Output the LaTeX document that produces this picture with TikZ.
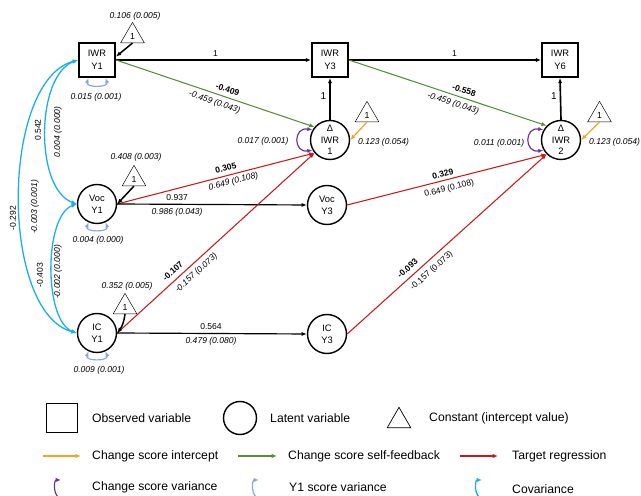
\documentclass[tikz,border=0pt]{standalone}
\usepackage{fontspec}
\setmainfont{Liberation Sans}
\usetikzlibrary{arrows.meta}
\usetikzlibrary{shapes.geometric}
\definecolor{intcol}{RGB}{245,162,35}
\definecolor{fbcol}{RGB}{88,140,55}
\definecolor{regcol}{RGB}{200,25,25}
\definecolor{dvarcol}{RGB}{112,48,160}
\definecolor{yvarcol}{RGB}{135,165,225}
\definecolor{covcol}{RGB}{25,175,235}

\begin{document}
\begin{tikzpicture}[x=0.3mm,y=0.3mm, >={Latex[length=4.5pt,width=3.6pt]},
	obs/.style = {draw, rectangle, line width=1.6pt, minimum width=10.8mm, minimum height=10.2mm, align=center, inner sep=0pt, font=\fontsize{8}{11}\selectfont},
	lat/.style = {draw, circle, line width=1.2pt, minimum size=11.7mm, align=center, inner sep=0pt, font=\fontsize{8}{10}\selectfont},
	const/.style = {draw, regular polygon, regular polygon sides=3, minimum size=8.2mm, inner sep=0pt, fill=white, font=\fontsize{7.5}{8}\selectfont},
	val/.style = {text=black, inner sep=2.5pt, font=\fontsize{7.3}{8}\selectfont\itshape},
	est/.style = {text=black, inner sep=2.5pt, font=\fontsize{7.3}{8}\selectfont},
	std/.style = {text=black, inner sep=2.5pt, font=\fontsize{7.3}{8}\selectfont\bfseries},
	key/.style = {anchor=west, inner sep=0pt, font=\fontsize{10.4}{12}\selectfont},
	path/.style = {->, line width=1pt, black},
	fb/.style = {->, line width=0.9pt, fbcol},
	reg/.style = {->, line width=0.9pt, regcol},
	icpt/.style = {->, line width=1pt, intcol},
	cov/.style = {<->, line width=1.1pt, covcol},
	dvar/.style = {<->, line width=1pt, dvarcol},
	yvar/.style = {<->, line width=1pt, yvarcol}]
	\useasboundingbox (0,0) rectangle (641,496);

	\node[obs] (IWR1) at (97,436) {IWR\\Y1};
	\node[obs] (IWR3) at (330,436) {IWR\\Y3};
	\node[obs] (IWR6) at (560,436) {IWR\\Y6};
	\node[lat] (D1) at (330,356) {Δ\\IWR\\1};
	\node[lat] (D2) at (561,356) {Δ\\IWR\\2};
	\node[lat] (Voc1) at (97,292) {Voc\\Y1};
	\node[lat] (Voc3) at (327,291) {Voc\\Y3};
	\node[lat] (IC1) at (97,163) {IC\\Y1};
	\node[lat] (IC3) at (327,162) {IC\\Y3};

	\node[const] (T1) at (132.5,460) {1};
	\node[const] (T2) at (134,317) {1};
	\node[const] (T3) at (125,189) {1};
	\node[const] (T4) at (367,381) {1};
	\node[const] (T5) at (599.5,381) {1};

	\node[val] (v1) at (135,480) {0.106 (0.005)};
	\node[val] (v2) at (136,339) {0.408 (0.003)};
	\node[val] (v3) at (127,210) {0.352 (0.005)};
	\node[val, anchor=west] (v4) at (355,354) {0.123 (0.054)};
	\node[val, anchor=west] (v5) at (586,354) {0.123 (0.054)};
	\node[val] (s1) at (96,399) {0.015 (0.001)};
	\node[val] (s2) at (98,256) {0.004 (0.000)};
	\node[val] (s3) at (99,126) {0.009 (0.001)};
	\node[val] (s4) at (263,355) {0.017 (0.001)};
	\node[val] (s5) at (499,353) {0.011 (0.001)};

	\node[est, rotate=90] (c1a) at (38,366) {0.542};
	\node[val, rotate=90] (c1b) at (58,364) {0.004 (0.000)};
	\node[est, rotate=90] (c2a) at (40,221) {-0.403};
	\node[val, rotate=90] (c2b) at (58,224) {-0.002 (0.000)};
	\node[est, rotate=90] (c3a) at (13,278) {-0.292};
	\node[val, rotate=90] (c3b) at (35,289) {-0.003 (0.001)};

	\draw[cov] (IWR1.west) to[out=200,in=160,looseness=0.8] (Voc1.west);
	\draw[cov] (Voc1.west) to[out=200,in=160,looseness=0.7] (IC1.west);
	\draw[cov] (IWR1.west) to[out=195,in=165,looseness=0.75] (IC1.west);

	\draw[yvar] (IWR1.245) to[out=-110,in=-70,looseness=1.6] (IWR1.295);
	\draw[yvar] (Voc1.245) to[out=-110,in=-70,looseness=1.6] (Voc1.295);
	\draw[yvar] (IC1.245) to[out=-110,in=-70,looseness=1.6] (IC1.295);
	\draw[dvar] (D1.150) to[out=170,in=190,looseness=2.5] (D1.210);
	\draw[dvar] (D2.150) to[out=170,in=190,looseness=2.5] (D2.210);

	\draw[path] (IWR1.east) -- node[est, pos=.51, above] (e1) {1} (IWR3.west);
	\draw[path] (IWR3.east) -- node[est, pos=.55, above] (e2) {1} (IWR6.west);
	\draw[path, line width=1.4pt] (D1.north) -- node[est, pos=.57, left, font=\fontsize{8.5}{9}\selectfont] (e3) {1} (IWR3.south);
	\draw[path, line width=1.4pt] (D2.north) -- node[est, pos=.57, left, font=\fontsize{8.5}{9}\selectfont] (e4) {1} (IWR6.south);
	\draw[fb] (IWR1.east) -- node[std, sloped, pos=.55, above=1pt] (g1a) {-0.409} node[val, sloped, pos=.51, below=1pt] (g1b) {-0.459 (0.043)} (D1.140);
	\draw[fb] (IWR3.east) -- node[std, sloped, pos=.57, above=1pt] (g2a) {-0.558} node[val, sloped, pos=.54, below=1pt] (g2b) {-0.459 (0.043)} (D2.135);
	\draw[reg] (Voc1.east) -- node[std, sloped, pos=.56, above=1pt] (r1a) {0.305} node[val, sloped, pos=.58, below] (r1b) {0.649 (0.108)} (D1.220);
	\draw[path] (Voc1.east) -- node[est, pos=.316, above] (b1a) {0.937} node[val, pos=.316, below] (b1b) {0.986 (0.043)} (Voc3.west);
	\draw[reg] (IC1.east) -- node[std, sloped, pos=.31, above=1.5pt] (r2a) {-0.107} node[val, sloped, pos=.37, below=1.5pt] (r2b) {-0.157 (0.073)} (D1.220);
	\draw[path] (IC1.east) -- node[est, pos=.495, above] (b2a) {0.564} node[val, pos=.495, below] (b2b) {0.479 (0.080)} (IC3.west);
	\draw[reg] (Voc3.east) -- node[std, sloped, pos=.487, above] (r3a) {0.329} node[est, sloped, pos=.5, below=1.5pt] (r3b) {0.649 (0.108)} (D2.225);
	\draw[reg] (IC3.east) -- node[std, sloped, pos=.33, above=1.5pt] (r4a) {-0.093} node[est, sloped, pos=.39, below=2pt] (r4b) {-0.157 (0.073)} (D2.225);

	\draw[path, line width=1.3pt] (T1.south) -- (IWR1.10);
	\draw[path, line width=1.3pt] (T2.south) -- (Voc1.east);
	\draw[path, line width=1.3pt] (T3.south) to[bend left=15] (IC1.east);
	\draw[icpt] (T4.south) -- (D1.east);
	\draw[icpt] (T5.south) -- (D2.east);

	\node[obs, minimum width=9.3mm, minimum height=8.7mm] (kObs) at (62,78) {};
	\node[key] (tObs) at (92,78) {Observed variable};
	\node[lat, minimum size=9.9mm] (kLat) at (240,78) {};
	\node[key] (tLat) at (270,78) {Latent variable};
	\node[const, line width=0.6pt] (kCon) at (399,75) {};
	\node[key] (tCon) at (429,78) {Constant (intercept value)};

	\coordinate (kIntA) at (43,40);
	\coordinate (kIntB) at (81,40);
	\coordinate (kFbA) at (238,40);
	\coordinate (kFbB) at (277,40);
	\coordinate (kRegA) at (460,40);
	\coordinate (kRegB) at (498,40);
	\draw[icpt] (kIntA) -- (kIntB);
	\draw[fb] (kFbA) -- (kFbB);
	\draw[reg] (kRegA) -- (kRegB);
	\node[key] (tInt) at (92,40) {Change score intercept};
	\node[key] (tFb) at (288,40) {Change score self-feedback};
	\node[key] (tReg) at (512,40) {Target regression};

	\coordinate (kDvA) at (61,-2);
	\coordinate (kDvB) at (61,16);
	\coordinate (kYvA) at (259,-2);
	\coordinate (kYvB) at (259,16);
	\coordinate (kCvA) at (482,-2);
	\coordinate (kCvB) at (482,16);
	\draw[dvar, ->] (kDvA) to[out=180,in=180,looseness=1.1] (kDvB);
	\draw[yvar, ->] (kYvA) to[out=180,in=180,looseness=1.1] (kYvB);
	\draw[cov, ->] (kCvA) to[out=180,in=180,looseness=1.1] (kCvB);
	\node[key] (tDv) at (92,9) {Change score variance};
	\node[key] (tYv) at (289,9) {Y1 score variance};
	\node[key] (tCv) at (512,7) {Covariance};
\end{tikzpicture}
\end{document}
